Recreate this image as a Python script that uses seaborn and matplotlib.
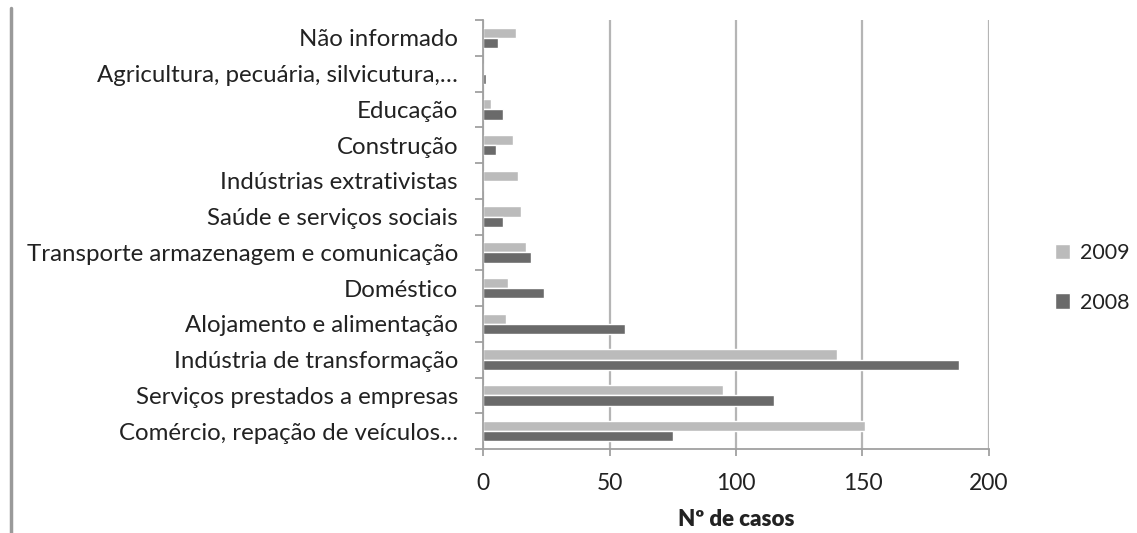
import matplotlib
matplotlib.use("Agg")
import matplotlib.pyplot as plt
import seaborn as sns
import pandas as pd
import numpy as np
from matplotlib.lines import Line2D

categories = [
    "Não informado",
    "Agricultura, pecuária, silvicutura,…",
    "Educação",
    "Construção",
    "Indústrias extrativistas",
    "Saúde e serviços sociais",
    "Transporte armazenagem e comunicação",
    "Doméstico",
    "Alojamento e alimentação",
    "Indústria de transformação",
    "Serviços prestados a empresas",
    "Comércio, repação de veículos…",
]
values_2009 = [13, 0, 3, 12, 14, 15, 17, 10, 9, 140, 95, 151]
values_2008 = [6, 1, 8, 5, 0, 8, 19, 24, 56, 188, 115, 75]
years = ["2009", "2008"]
xticks = [0, 50, 100, 150, 200]

df = pd.DataFrame({
    "categoria": categories * 2,
    "ano": [years[0]] * len(categories) + [years[1]] * len(categories),
    "casos": values_2009 + values_2008,
})

sns.set_theme(style="white")
plt.rcParams["font.family"] = ["Lato", "DejaVu Sans"]

fig = plt.figure(figsize=(11.37, 5.33), dpi=100)
ax = fig.add_axes([483 / 1137, 1 - 449 / 533, (989 - 483) / 1137, (449 - 20) / 533])

palette = {"2009": "#BBBBBB", "2008": "#6A6A6A"}
sns.barplot(data=df, y="categoria", x="casos", hue="ano", hue_order=years,
            order=categories, palette=palette, orient="h", width=0.58,
            saturation=1, ax=ax, legend=True)

ax.set_xlim(0, 200)
ax.set_ylim(len(categories) - 0.5, -0.5)
ax.set_xticks(xticks)
ax.set_xticklabels([str(t) for t in xticks], fontsize=16.5, color="#222222")
ax.set_yticks(range(len(categories)))
ax.set_yticklabels(categories, fontsize=17.3, color="#222222")
ax.set_yticks(np.arange(-0.5, len(categories), 1.0), minor=True)
ax.tick_params(axis="y", which="major", length=0, pad=18)
ax.tick_params(axis="y", which="minor", length=6, width=1.3, color="#A0A0A0", left=True)
ax.tick_params(axis="x", which="major", length=5, width=1.3, color="#A0A0A0", bottom=True, pad=12)

ax.grid(axis="x", color="#B5B5B5", linewidth=1.6)
ax.set_axisbelow(True)
for s in ["top", "right"]:
    ax.spines[s].set_visible(False)
for s in ["left", "bottom"]:
    ax.spines[s].set_color("#A0A0A0")
    ax.spines[s].set_linewidth(1.3)

ax.set_ylabel("")
ax.set_xlabel("Nº de casos", fontsize=16, fontweight="heavy", color="#222222", labelpad=11)

handles, labels = ax.get_legend_handles_labels()
ax.legend(handles, labels, loc="center left", bbox_to_anchor=(1036 / 1137, 1 - 278 / 533),
          bbox_transform=fig.transFigure, frameon=False, fontsize=15.5,
          handlelength=0.7, handleheight=0.7, handletextpad=0.45,
          labelspacing=1.35, labelcolor="#222222")

fig.add_artist(Line2D([11 / 1137, 11 / 1137], [0, 1 - 8 / 533], transform=fig.transFigure,
                      color="#9A9A9A", linewidth=2.5))

fig.savefig("out.png", dpi=100)
